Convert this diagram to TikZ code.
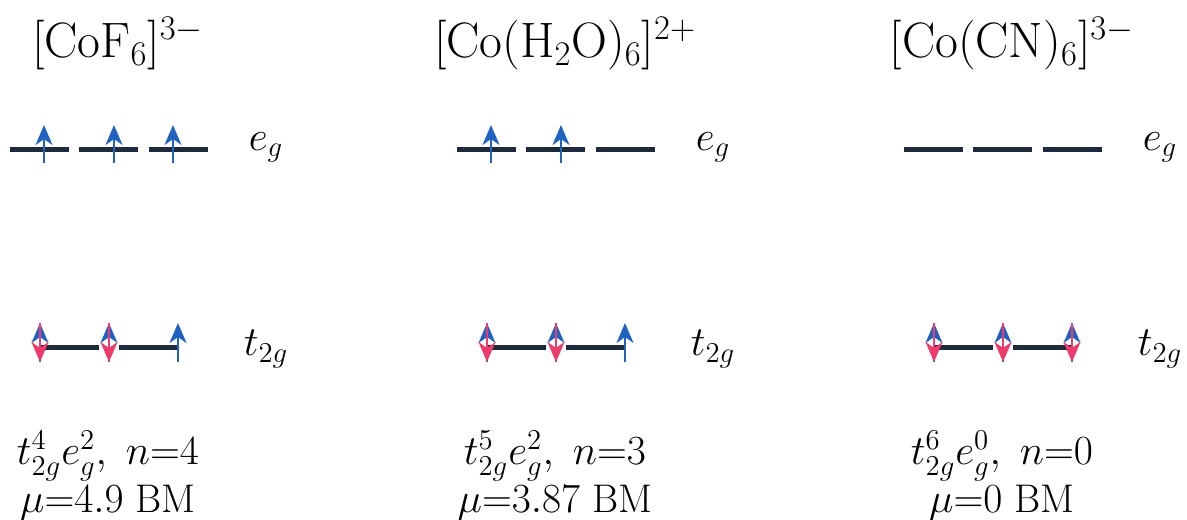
\documentclass[tikz,border=0pt]{standalone}
\usetikzlibrary{arrows.meta}
\definecolor{cblue}{HTML}{1F62C2}
\definecolor{cpink}{HTML}{EE3B6C}
\definecolor{cdark}{HTML}{1E293B}
\tikzset{
  level/.style={draw=cdark, line width=2.5pt},
  spinup/.style={-{Stealth[length=10pt, width=8.5pt, inset=3pt]}, draw=cblue, line width=1pt},
  spindown/.style={-{Stealth[length=10pt, width=8.5pt, inset=3pt]}, draw=cpink, line width=1pt},
  title/.style={font=\fontsize{25.2}{30}\selectfont},
  lvl/.style={font=\fontsize{21.5}{26}\selectfont},
  note/.style={font=\fontsize{20}{24}\selectfont, align=center},
}

\begin{document}
\begin{tikzpicture}[x=0.5pt, y=-0.5pt]
  \useasboundingbox (0,0) rectangle (1187,519);
  % [CoF6]3-, high spin
  \begin{scope}
    \node[title] (t1) at (118,44) {$[\mathrm{CoF_6}]^{3-}$};
    \draw[level] (10,149) -- (69,149);
    \draw[level] (79,149) -- (138,149);
    \draw[level] (149,149) -- (208,149);
    \draw[spinup] (44,163) -- (44,125);
    \draw[spinup] (114,163) -- (114,125);
    \draw[spinup] (173,163) -- (173,125);
    \node[lvl] (eg1) at (266,147) {$e_g$};
    \draw[level] (40,347) -- (99,347);
    \draw[level] (119,347) -- (178,347);
    \draw[spinup] (40,362) -- (40,323); \draw[spindown] (40,323) -- (40,362);
    \draw[spinup] (109,362) -- (109,323); \draw[spindown] (109,323) -- (109,362);
    \draw[spinup] (178,362) -- (178,323);
    \node[lvl] (tg1) at (266,349) {$t_{2g}$};
    \node[note] (cfg1) at (108,476) {$t_{2g}^4e_g^2,\ n{=}4$\\$\mu{=}4.9$ BM};
  \end{scope}
  % [Co(H2O)6]2+
  \begin{scope}[shift={(447,0)}]
    \node[title] (t2) at (118,44) {$[\mathrm{Co(H_2O)_6}]^{2+}$};
    \draw[level] (10,149) -- (69,149);
    \draw[level] (79,149) -- (138,149);
    \draw[level] (149,149) -- (208,149);
    \draw[spinup] (44,163) -- (44,125);
    \draw[spinup] (114,163) -- (114,125);
    \node[lvl] (eg2) at (266,147) {$e_g$};
    \draw[level] (40,347) -- (99,347);
    \draw[level] (119,347) -- (178,347);
    \draw[spinup] (40,362) -- (40,323); \draw[spindown] (40,323) -- (40,362);
    \draw[spinup] (109,362) -- (109,323); \draw[spindown] (109,323) -- (109,362);
    \draw[spinup] (178,362) -- (178,323);
    \node[lvl] (tg2) at (266,349) {$t_{2g}$};
    \node[note] (cfg2) at (108,476) {$t_{2g}^5e_g^2,\ n{=}3$\\$\mu{=}3.87$ BM};
  \end{scope}
  % [Co(CN)6]3-, low spin
  \begin{scope}[shift={(894,0)}]
    \node[title] (t3) at (118,44) {$[\mathrm{Co(CN)_6}]^{3-}$};
    \draw[level] (10,149) -- (69,149);
    \draw[level] (79,149) -- (138,149);
    \draw[level] (149,149) -- (208,149);
    \node[lvl] (eg3) at (266,147) {$e_g$};
    \draw[level] (40,347) -- (99,347);
    \draw[level] (119,347) -- (178,347);
    \draw[spinup] (40,362) -- (40,323); \draw[spindown] (40,323) -- (40,362);
    \draw[spinup] (109,362) -- (109,323); \draw[spindown] (109,323) -- (109,362);
    \draw[spinup] (178,362) -- (178,323); \draw[spindown] (178,323) -- (178,362);
    \node[lvl] (tg3) at (266,349) {$t_{2g}$};
    \node[note] (cfg3) at (108,476) {$t_{2g}^6e_g^0,\ n{=}0$\\$\mu{=}0$ BM};
  \end{scope}
\end{tikzpicture}
\end{document}
